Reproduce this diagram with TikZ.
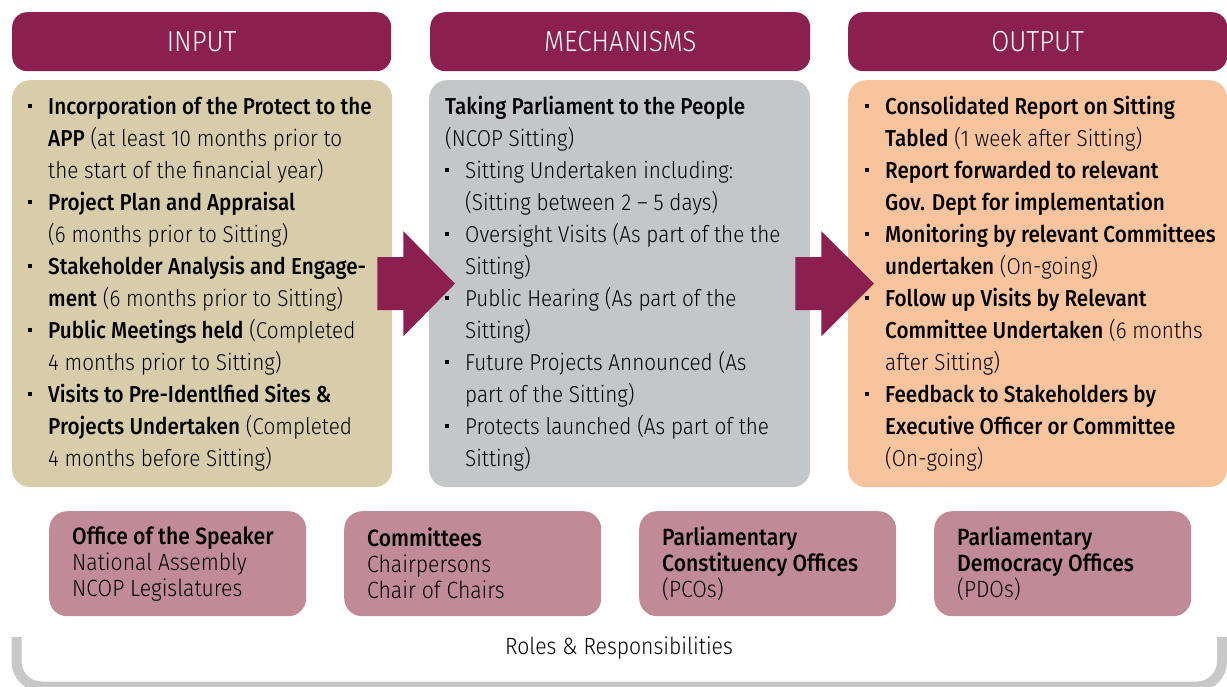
\documentclass[tikz,border=0pt]{standalone}
\usepackage{fontspec}
\setmainfont{Fira Sans Light}[FakeStretch=0.9, BoldFont={Fira Sans Medium}]
\usetikzlibrary{calc}

\definecolor{maroon}{RGB}{139,31,79}
\definecolor{inputfill}{RGB}{216,205,170}
\definecolor{mechfill}{RGB}{195,199,202}
\definecolor{outputfill}{RGB}{248,196,157}
\definecolor{rolefill}{RGB}{193,138,151}
\definecolor{bracketgrey}{RGB}{200,200,200}

% bullet and hanging indent for the lists
\newcommand{\bul}{\makebox[20pt][l]{\rule[6pt]{4pt}{4pt}}}
\newcommand{\ind}{\hspace*{20pt}}

% fat arrow from one panel into the next
\newcommand{\blockarrow}[2]{%
  \fill[maroon] ($(#1.east)+(-15,-26.5)$) -- ++(26,0) -- ++(0,-26)
    -- ($(#2.west)+(26,0)$) -- ($(#1.east)+(11,52.5)$) -- ++(0,-26)
    -- ++(-26,0) -- cycle;}

\begin{document}
\begin{tikzpicture}[x=1pt, y=-1pt,
    header/.style={fill=maroon, rounded corners=15pt, minimum height=59pt,
      text=white, inner sep=0, anchor=north west, font=\fontsize{29}{32}\selectfont},
    panel/.style={rounded corners=18pt, minimum height=407pt, inner sep=0, anchor=north west},
    itemtext/.style={anchor=north west, align=left, inner sep=0,
      font=\fontsize{23}{32}\selectfont},
    rolebox/.style={fill=rolefill, rounded corners=18pt, minimum width=257pt,
      minimum height=105pt, text width=211pt, inner xsep=23pt, inner ysep=0,
      align=flush left, anchor=north west, font=\fontsize{23.5}{26}\selectfont}]
  \useasboundingbox (0,0) rectangle (1227,686);

  % column headers
  \node[header, minimum width=379pt] (inhead) at (12,12) {INPUT};
  \node[header, minimum width=380pt] (mechhead) at (430,12) {MECHANISMS};
  \node[header, minimum width=379pt] (outhead) at (848,12) {OUTPUT};

  % column panels
  \node[panel, fill=inputfill, minimum width=380pt] (inpanel) at (12,80) {};
  \node[panel, fill=mechfill, minimum width=381pt] (mechpanel) at (429,80) {};
  \node[panel, fill=outputfill, minimum width=379pt] (outpanel) at (848,80) {};

  \blockarrow{inpanel}{mechpanel}
  \blockarrow{mechpanel}{outpanel}

  \node[itemtext] (intext) at ($(inpanel.north west)+(16,11.6)$) {%
    \strut\bul\textbf{Incorporation of the Protect to the}\\
    \ind\textbf{APP} (at least 10 months prior to\\
    \ind the start of the financial year)\\
    \bul\textbf{Project Plan and Appraisal}\\
    \ind(6 months prior to Sitting)\\
    \bul\textbf{Stakeholder Analysis and Engage-}\\
    \ind\textbf{ment} (6 months prior to Sitting)\\
    \bul\textbf{Public Meetings held} (Completed\\
    \ind 4 months prior to Sitting)\\
    \bul\textbf{Visits to Pre-Identlfied Sites \&}\\
    \ind\textbf{Projects Undertaken} (Completed\\
    \ind 4 months before Sitting)};

  \node[itemtext] (mechtext) at ($(mechpanel.north west)+(16,11.6)$) {%
    \strut\textbf{Taking Parliament to the People}\\
    (NCOP Sitting)\\
    \bul Sitting Undertaken including:\\
    \ind(Sitting between 2 -- 5 days)\\
    \bul Oversight Visits (As part of the the\\
    \ind Sitting)\\
    \bul Public Hearing (As part of the\\
    \ind Sitting)\\
    \bul Future Projects Announced (As\\
    \ind part of the Sitting)\\
    \bul Protects launched (As part of the\\
    \ind Sitting)};

  \node[itemtext] (outtext) at ($(outpanel.north west)+(17,11.6)$) {%
    \strut\bul\textbf{Consolidated Report on Sitting}\\
    \ind\textbf{Tabled} (1 week after Sitting)\\
    \bul\textbf{Report forwarded to relevant}\\
    \ind\textbf{Gov. Dept for implementation}\\
    \bul\textbf{Monitoring by relevant Committees}\\
    \ind\textbf{undertaken} (On-going)\\
    \bul\textbf{Follow up Visits by Relevant}\\
    \ind\textbf{Committee Undertaken} (6 months\\
    \ind after Sitting)\\
    \bul\textbf{Feedback to Stakeholders by}\\
    \ind\textbf{Executive Officer or Committee}\\
    \ind(On-going)};

  % roles
  \node[rolebox] (speaker) at (49,511) {\textbf{Office of the Speaker}\\National Assembly\\NCOP Legislatures};
  \node[rolebox] (committees) at (344,511) {\textbf{Committees}\\Chairpersons\\Chair of Chairs};
  \node[rolebox] (pco) at (639,511) {\textbf{Parliamentary}\\\textbf{Constituency Offices}\\(PCOs)};
  \node[rolebox] (pdo) at (934,511) {\textbf{Parliamentary}\\\textbf{Democracy Offices}\\(PDOs)};

  \draw[bracketgrey, line width=10pt, rounded corners=25pt]
    (16.5,637) -- (16.5,686.5) -- (1222,686.5) -- (1222,637);
  \node[font=\fontsize{23.5}{26}\selectfont] (roles) at (619,648) {Roles \& Responsibilities};
\end{tikzpicture}
\end{document}
